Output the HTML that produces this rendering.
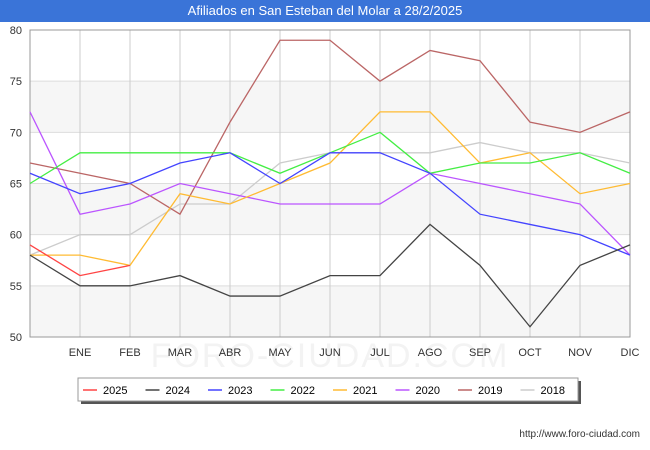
<!DOCTYPE html>
<html><head><meta charset="utf-8"><style>
body{margin:0;width:650px;height:450px;background:#fff;font-family:"Liberation Sans",sans-serif;overflow:hidden}
#title{position:absolute;left:0;top:0;width:650px;height:22px;background:#3a74d8;color:#fff;font-size:13px;text-align:center;line-height:22px}
</style></head><body>
<div id="title">Afiliados en San Esteban del Molar a 28/2/2025</div>
<svg id="chart" width="650" height="450" style="position:absolute;left:0;top:0"></svg>
<script>
const months=["","ENE","FEB","MAR","ABR","MAY","JUN","JUL","AGO","SEP","OCT","NOV","DIC"];
const yTicks=[50,55,60,65,70,75,80];
const seriesNames=["2025","2024","2023","2022","2021","2020","2019","2018"];
const colors=["#ff4444","#444444","#4444ff","#44ee44","#ffbb33","#bb55ff","#bb6666","#cccccc"];
const s2025=[59,56,57];
const s2024=[58,55,55,56,54,54,56,56,61,57,51,57,59];
const s2023=[66,64,65,67,68,65,68,68,66,62,61,60,58];
const s2022=[65,68,68,68,68,66,68,70,66,67,67,68,66];
const s2021=[58,58,57,64,63,65,67,72,72,67,68,64,65];
const s2020=[72,62,63,65,64,63,63,63,66,65,64,63,58];
const s2019=[67,66,65,62,71,79,79,75,78,77,71,70,72];
const s2018=[58,60,60,63,63,67,68,68,68,69,68,68,67];
const allSeries=[s2025,s2024,s2023,s2022,s2021,s2020,s2019,s2018];
const X0=30,X1=630,Y0=337,Y1=30;
const xs=i=>X0+i*(X1-X0)/12;
const ys=v=>Y0-(v-50)*(Y0-Y1)/30;
const svg=document.getElementById('chart');
const NS="http://www.w3.org/2000/svg";
function mk(t,a,p){const e=document.createElementNS(NS,t);for(const k in a)e.setAttribute(k,a[k]);(p||svg).appendChild(e);return e;}
for(let v=50;v<80;v+=10){const b=mk('rect',{x:X0,y:ys(v+5),width:X1-X0,height:ys(v)-ys(v+5),fill:'#f6f6f6'});

}
const wm=mk('text',{x:330,y:367,'text-anchor':'middle','font-size':34,fill:'#f3f3f3','letter-spacing':2});wm.textContent='FORO-CIUDAD.COM';


yTicks.forEach(v=>{const l=mk('line',{x1:X0,x2:X1,y1:ys(v),y2:ys(v),stroke:'#dddddd'});


const t=mk('text',{x:X0-8,y:ys(v)+4,'text-anchor':'end','font-size':11,fill:'#333'});t.textContent=v;

});
months.forEach((m,i)=>{const l=mk('line',{x1:xs(i),x2:xs(i),y1:Y1,y2:Y0,stroke:'#cccccc'});


const t=mk('text',{x:xs(i),y:Y0+19,'text-anchor':'middle','font-size':11,fill:'#333'});t.textContent=m;

});
const fr=mk('rect',{x:X0,y:Y1,width:X1-X0,height:Y0-Y1,fill:'none',stroke:'#999'});


for(let k=allSeries.length-1;k>=0;k--){const d=allSeries[k].map((v,i)=>xs(i)+','+ys(v)).join(' ');
const p=mk('polyline',{points:d,fill:'none',stroke:colors[k],'stroke-width':1.3});

}
mk('rect',{x:81,y:381,width:500,height:23,fill:'#555'});
const lg=mk('rect',{x:78,y:378,width:500,height:23,fill:'#fff',stroke:'#999'});


seriesNames.forEach((n,k)=>{const x=83+k*62.5;
const l=mk('line',{x1:x,x2:x+14,y1:390,y2:390,stroke:colors[k],'stroke-width':1.5});


const t=mk('text',{x:x+20,y:394,'font-size':11,fill:'#000'});t.textContent=n;

});
const u=mk('text',{x:640,y:437,'text-anchor':'end','font-size':10,fill:'#333'});u.textContent='http://www.foro-ciudad.com';


</script>
</body></html>
